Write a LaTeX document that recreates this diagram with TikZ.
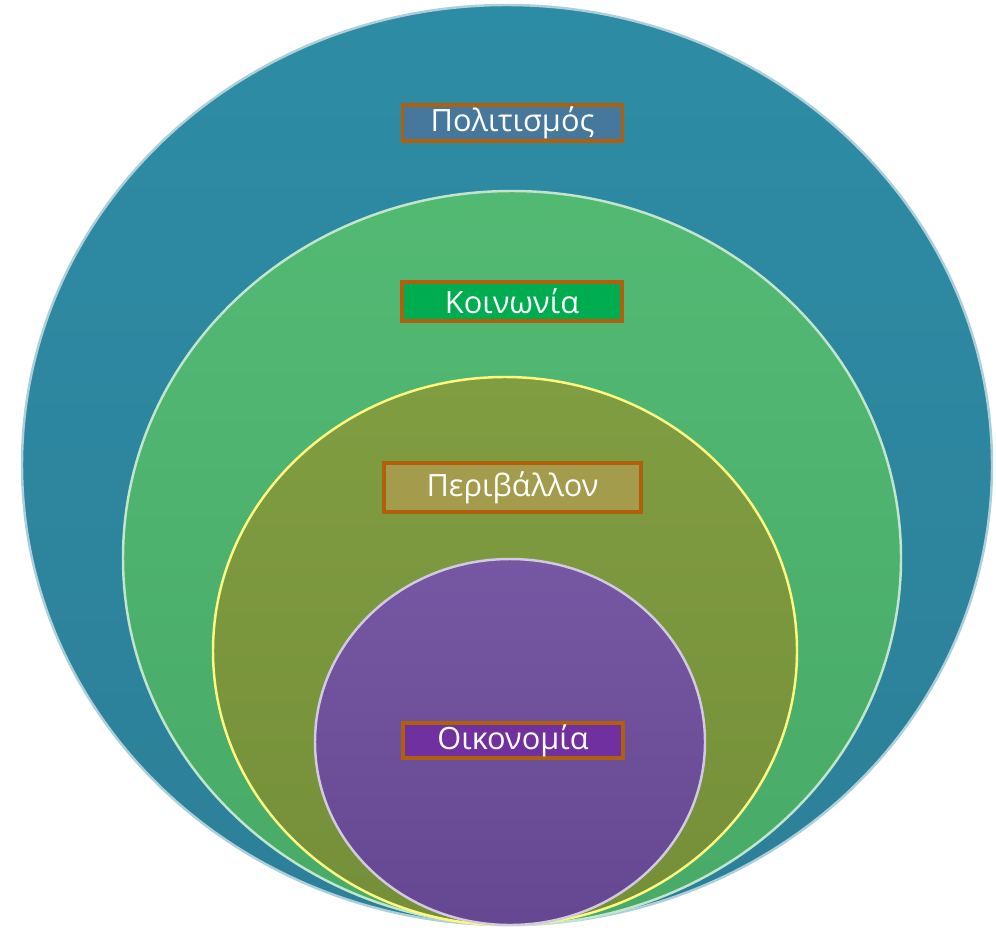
\documentclass[tikz,border=0pt]{standalone}
\usepackage{fontspec}
\setmainfont{Open Sans}
\usetikzlibrary{positioning}

\definecolor{culture}{HTML}{2F86A0}
\definecolor{society}{HTML}{4DB76F}
\definecolor{nature}{HTML}{7D9A3C}
\definecolor{economy}{HTML}{6E4E9E}
\definecolor{labelborder}{HTML}{B0600C}
\definecolor{culturefill}{HTML}{46779C}
\definecolor{societyfill}{HTML}{00AC50}
\definecolor{naturefill}{HTML}{A39C4C}
\definecolor{economyfill}{HTML}{7030A0}

\begin{document}
\begin{tikzpicture}[
        x=0.02cm,
        y=-0.02cm,
        ring/.style={
            line width=1.4pt
        },
        tag/.style={
            rectangle,
            draw=labelborder,
            line width=1.8pt,
            text=white,
            inner sep=0pt,
            minimum width=4.4cm,
            minimum height=0.72cm,
            font=\fontsize{17.5}{20}\selectfont
        }
    ]

    \useasboundingbox (0,0) rectangle (996,933);

    % Outer circle
    \shade[ring, top color=culture!95!cyan, bottom color=culture!95!black, draw=culture!40!white]
        (507,465) ellipse [x radius=485, y radius=460];

    % Second circle
    \shade[ring, top color=society!97!white, bottom color=society!93!black, draw=society!35!white]
        (512,558) ellipse [x radius=389, y radius=367];

    % Third circle
    \shade[ring, top color=nature!97!white, bottom color=nature!93!black, draw=yellow!50!white]
        (505,651) ellipse [x radius=292, y radius=274];

    % Inner circle
    \shade[ring, top color=economy!95!white, bottom color=economy!92!black, draw=economy!30!white]
        (510,742) ellipse [x radius=195, y radius=183];

    % Labels
    \node[tag, fill=culturefill] (culturetag) at (512.5,123) {Πολιτισμός};
    \node[tag, fill=societyfill, minimum height=0.78cm] (societytag) at (512,301.5) {Κοινωνία};
    \node[tag, fill=naturefill, minimum width=5.14cm, minimum height=0.98cm] (naturetag) at (512.5,487.5) {Περιβάλλον};
    \node[tag, fill=economyfill, minimum height=0.7cm] (economytag) at (513,740.5) {Οικονομία};

\end{tikzpicture}
\end{document}
